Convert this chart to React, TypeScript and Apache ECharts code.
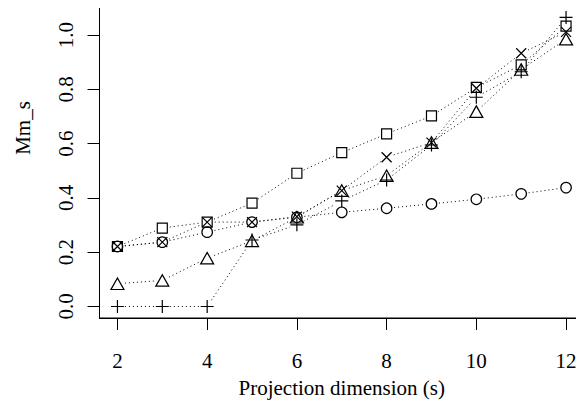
import React, { useEffect, useRef } from "react";
import * as echarts from "echarts";

const dims = [2, 3, 4, 5, 6, 7, 8, 9, 10, 11, 12];
const squareVals = [0.221, 0.289, 0.311, 0.381, 0.491, 0.567, 0.636, 0.702, 0.807, 0.89, 1.033];
const circleVals = [0.221, 0.237, 0.274, 0.311, 0.329, 0.347, 0.362, 0.378, 0.395, 0.415, 0.438];
const triangleVals = [0.084, 0.096, 0.178, 0.242, 0.329, 0.427, 0.482, 0.604, 0.718, 0.873, 0.985];
const plusVals = [0, 0, 0, 0.245, 0.301, 0.389, 0.466, 0.595, 0.771, 0.865, 1.065];
const crossVals = [0.221, 0.237, 0.311, 0.311, 0.331, 0.427, 0.55, 0.604, 0.804, 0.933, 1.012];
const xTicks = [2, 4, 6, 8, 10, 12];
const yTicks = [0, 0.2, 0.4, 0.6, 0.8, 1.0];

const FONT = "'Liberation Serif', serif";
const GAP = 7.5;

function points(vals: number[]) {
  return dims.map((d, i) => [d, vals[i]]);
}

function segments(vals: number[]) {
  const out: number[][] = [];
  for (let i = 0; i < dims.length - 1; i++) out.push([dims[i], vals[i], dims[i + 1], vals[i + 1]]);
  return out;
}

function lineSeries(name: string, vals: number[]) {
  return {
    name: name + "-line",
    type: "custom",
    silent: true,
    data: segments(vals),
    encode: { x: [0, 2], y: [1, 3] },
    renderItem: (_params: any, api: any) => {
      const p1 = api.coord([api.value(0), api.value(1)]);
      const p2 = api.coord([api.value(2), api.value(3)]);
      const dx = p2[0] - p1[0];
      const dy = p2[1] - p1[1];
      const len = Math.sqrt(dx * dx + dy * dy);
      if (len <= 2 * GAP + 1) return null;
      const ux = dx / len;
      const uy = dy / len;
      return {
        type: "line",
        shape: {
          x1: p1[0] + ux * GAP,
          y1: p1[1] + uy * GAP,
          x2: p2[0] - ux * GAP,
          y2: p2[1] - uy * GAP,
        },
        style: { stroke: "#000", lineWidth: 1, lineDash: [1, 3], fill: "none" },
      };
    },
    z: 2,
  };
}

function symSeries(name: string, vals: number[], symbol: string, size: number | number[]) {
  return {
    name,
    type: "scatter",
    data: points(vals),
    symbol,
    symbolSize: size,
    silent: true,
    itemStyle: { color: "none", borderColor: "#000", borderWidth: 1.2, opacity: 1 },
    z: 3,
  };
}

export default function App() {
  const ref = useRef<HTMLDivElement>(null);
  useEffect(() => {
    if (!ref.current) return;
    const chart = echarts.init(ref.current, null, { renderer: "svg" });
    chart.setOption({
      animation: false,
      backgroundColor: "#fff",
      textStyle: { fontFamily: FONT },
      grid: {
        left: 99.5,
        top: 7.3,
        right: -8.3,
        bottom: 409 - 318,
        show: true,
        borderColor: "#000",
        borderWidth: 1,
        containLabel: false,
      },
      xAxis: {
        type: "value",
        min: 1.6,
        max: 12.4,
        name: "Projection dimension (s)",
        nameLocation: "middle",
        nameGap: 59,
        nameTextStyle: { fontFamily: FONT, fontSize: 21, color: "#000" },
        axisLine: { show: true, onZero: false, lineStyle: { color: "#000", width: 1 } },
        axisTick: { show: true, length: 12, inside: false, customValues: xTicks, lineStyle: { color: "#000", width: 1 } },
        axisLabel: {
          customValues: xTicks,
          margin: 32,
          fontFamily: FONT,
          fontSize: 21,
          color: "#000",
          formatter: (v: number) => String(v),
        },
        splitLine: { show: false },
      },
      yAxis: {
        type: "value",
        min: -0.0424,
        max: 1.1024,
        axisLine: { show: true, onZero: false, lineStyle: { color: "#000", width: 1 } },
        axisTick: { show: true, length: 12, inside: false, customValues: yTicks, lineStyle: { color: "#000", width: 1 } },
        axisLabel: {
          customValues: yTicks,
          rotate: 90,
          margin: 23,
          fontFamily: FONT,
          fontSize: 21,
          color: "#000",
          formatter: (v: number) => v.toFixed(1),
        },
        splitLine: { show: false },
      },
      graphic: [
        {
          type: "text",
          x: 23,
          y: 128,
          rotation: Math.PI / 2,
          style: {
            text: "Mm_s",
            fontFamily: FONT,
            fontSize: 21,
            fill: "#000",
            textAlign: "center",
            textVerticalAlign: "middle",
          },
        },
      ],
      series: [
        lineSeries("square", squareVals),
        lineSeries("circle", circleVals),
        lineSeries("triangle", triangleVals),
        lineSeries("plus", plusVals),
        lineSeries("cross", crossVals),
        symSeries("square", squareVals, "rect", 10),
        symSeries("circle", circleVals, "circle", 10.5),
        symSeries("triangle", triangleVals, "triangle", [13, 11.5]),
        symSeries("plus", plusVals, "path://M0,6.5L13,6.5M6.5,0L6.5,13", 13),
        symSeries("cross", crossVals, "path://M0,0L10,10M10,0L0,10", 10),
      ],
    });
    return () => chart.dispose();
  }, []);
  return <div ref={ref} style={{ width: 584, height: 409, margin: -8 }} />;
}
